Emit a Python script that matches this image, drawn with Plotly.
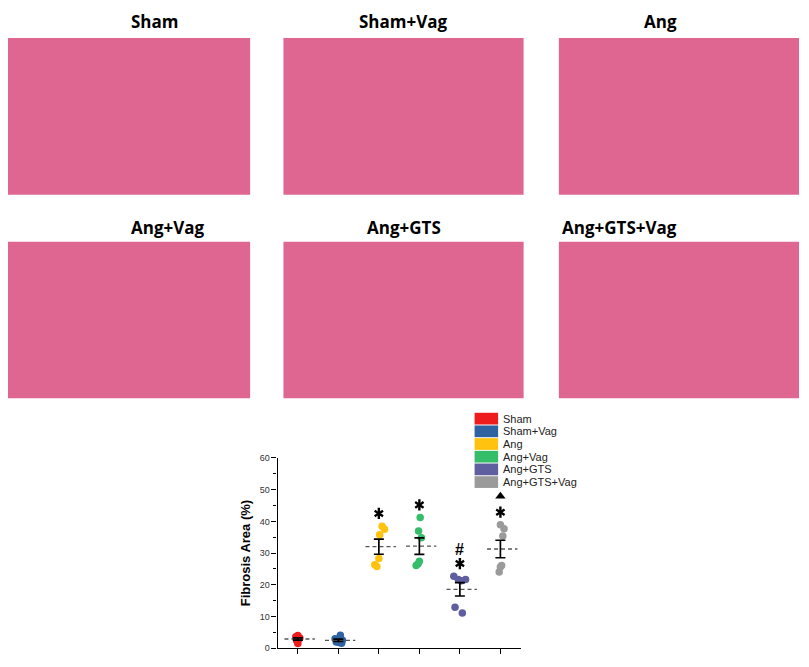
import numpy as np
import plotly.graph_objects as go

# the page keeps an 8 px margin round the figure, so the figure is drawn
# 16 px smaller than the window and the reference layout is scaled into it
REF_W, REF_H = 809, 667
W, H = REF_W - 16, REF_H - 16

groups = ["Sham", "Sham+Vag", "Ang", "Ang+Vag", "Ang+GTS", "Ang+GTS+Vag"]
colors = ["#ee1c1c", "#2f62a0", "#ffc20e", "#35bd6a", "#5f5fa0", "#9a9a9a"]

# fibrosis area (%) per animal
values = [
    [4.0, 3.6, 3.2, 2.8, 2.4, 1.5],
    [4.1, 3.0, 2.5, 2.0, 1.8, 1.6],
    [38.5, 37.5, 35.8, 28.3, 26.3, 25.8],
    [41.2, 37.0, 34.8, 27.4, 26.6, 26.1],
    [22.7, 21.7, 21.3, 21.7, 12.9, 11.1],
    [38.9, 37.7, 35.4, 26.1, 25.6, 24.0],
]
# horizontal scatter of the dots around each category
jitter = [
    [0.00, -0.05, 0.05, 0.02, -0.03, 0.00],
    [0.05, -0.08, 0.10, -0.05, 0.02, 0.08],
    [0.08, 0.14, 0.02, 0.00, -0.10, -0.05],
    [0.02, -0.02, 0.05, 0.00, -0.03, -0.08],
    [-0.15, -0.04, 0.04, 0.14, -0.12, 0.06],
    [0.00, 0.09, 0.06, 0.03, 0.00, -0.03],
]
# significance: star vs Sham, "#" vs Ang, triangle vs Ang+GTS
star = [False, False, True, True, True, True]
hash_mark = [False, False, False, False, True, False]
tri_mark = [False, False, False, False, False, True]

# micrograph grid (reference pixels)
panel_cols = [(0, 247), (281, 526), (562, 807)]
panel_rows = [(26, 189), (238, 401)]
panel_fill = "#de6690"

# plot area (reference pixels)
px_l, px_r, px_t, px_b = 275, 523, 463, 661


def fx(p):
    return p / REF_W


def fy(p):
    return 1 - p / REF_H


fig = go.Figure()

sx, sy, hx, hy, tx, ty = [], [], [], [], [], []
for i, (g, c, v, j) in enumerate(zip(groups, colors, values, jitter)):
    k = i + 1
    v = np.array(v)
    m = v.mean()
    sem = v.std(ddof=1) / np.sqrt(len(v))
    fig.add_trace(go.Scatter(
        x=k + np.array(j), y=v, mode="markers", name=g,
        marker=dict(color=c, size=7.5, line=dict(width=0)),
        showlegend=False, hoverinfo="y"))
    fig.add_trace(go.Scatter(
        x=[k - 0.33, k + 0.42], y=[m, m], mode="lines",
        line=dict(color="#555555", width=1.3, dash="4px,3px"),
        showlegend=False, hoverinfo="skip"))
    fig.add_trace(go.Scatter(
        x=[k], y=[m], mode="markers", marker=dict(size=1, color="black"),
        error_y=dict(type="data", array=[sem], color="black",
                     thickness=1.7, width=5),
        showlegend=False, hoverinfo="skip"))
    if star[i]:
        ys = v.max() + 4.0
        sx.append(k)
        sy.append(ys)
        if hash_mark[i]:
            hx.append(k)
            hy.append(ys + 4.4)
        if tri_mark[i]:
            tx.append(k)
            ty.append(ys + 5.0)

# bold six-armed asterisks built from two "y" symbols
for sym in ["y-up-open", "y-down-open"]:
    fig.add_trace(go.Scatter(
        x=sx, y=sy, mode="markers", showlegend=False, hoverinfo="skip",
        marker=dict(symbol=sym, size=7, color="black",
                    line=dict(color="black", width=2.4))))
fig.add_trace(go.Scatter(
    x=tx, y=ty, mode="markers", showlegend=False, hoverinfo="skip",
    marker=dict(symbol="triangle-up", size=9, color="black")))
for x, y in zip(hx, hy):
    fig.add_annotation(x=x, y=y, text="<b>#</b>", showarrow=False,
                       font=dict(size=16, color="black",
                                 family="Liberation Sans"),
                       yanchor="middle")

# micrograph placeholders with titles
for r, (t0, t1) in enumerate(panel_rows):
    for cidx, (l0, l1) in enumerate(panel_cols):
        fig.add_shape(type="rect", xref="paper", yref="paper",
                      x0=fx(l0), x1=fx(l1), y0=fy(t1), y1=fy(t0),
                      fillcolor=panel_fill, line=dict(width=0), layer="below")
        fig.add_annotation(xref="paper", yref="paper",
                           x=fx((l0 + l1) / 2), y=1 if r == 0 else fy(t0 - 15),
                           text="<b>%s</b>" % groups[r * 3 + cidx],
                           showarrow=False,
                           yanchor="top" if r == 0 else "middle",
                           yshift=5 if r == 0 else 0,
                           font=dict(size=17, color="black",
                                     family="Open Sans"))

# legend drawn as colour boxes
lg_x0, lg_x1, lg_y, lg_dy = 476, 500, 416, 13.2
for i, (g, c) in enumerate(zip(groups, colors)):
    y_top = lg_y + i * lg_dy
    fig.add_shape(type="rect", xref="paper", yref="paper",
                  x0=fx(lg_x0), x1=fx(lg_x1),
                  y0=fy(y_top + lg_dy - 1), y1=fy(y_top),
                  fillcolor=c, line=dict(width=0))
    fig.add_annotation(xref="paper", yref="paper",
                       x=fx(lg_x1 + 3), y=fy(y_top + (lg_dy - 1) / 2),
                       text=g, showarrow=False, xanchor="left",
                       yanchor="middle",
                       font=dict(size=11, color="#222222",
                                 family="Liberation Sans"))

fig.update_layout(
    width=W, height=H,
    margin=dict(l=0, r=0, t=0, b=0),
    paper_bgcolor="white", plot_bgcolor="white",
    showlegend=False,
    xaxis=dict(domain=[fx(px_l), fx(px_r)], range=[0.5, 6.5],
               tickvals=list(range(1, 7)), showticklabels=False,
               ticks="outside", ticklen=5, tickcolor="black",
               showline=True, linecolor="black", linewidth=1.2,
               showgrid=False, zeroline=False),
    yaxis=dict(domain=[fy(px_b), fy(px_t)], range=[0, 60],
               tickvals=list(range(0, 61, 10)), ticks="outside",
               ticklen=5, tickcolor="black",
               minor=dict(tickvals=list(range(5, 60, 10)), ticks="outside",
                          ticklen=3, tickcolor="black"),
               showline=True, linecolor="black", linewidth=1.2,
               showgrid=False, zeroline=False,
               tickfont=dict(size=9, color="#333333",
                             family="Liberation Sans"),
               title=dict(text="<b>Fibrosis Area (%)</b>", standoff=6,
                          font=dict(size=13, color="black",
                                    family="Liberation Sans"))),
)

fig.write_html("out.html")
